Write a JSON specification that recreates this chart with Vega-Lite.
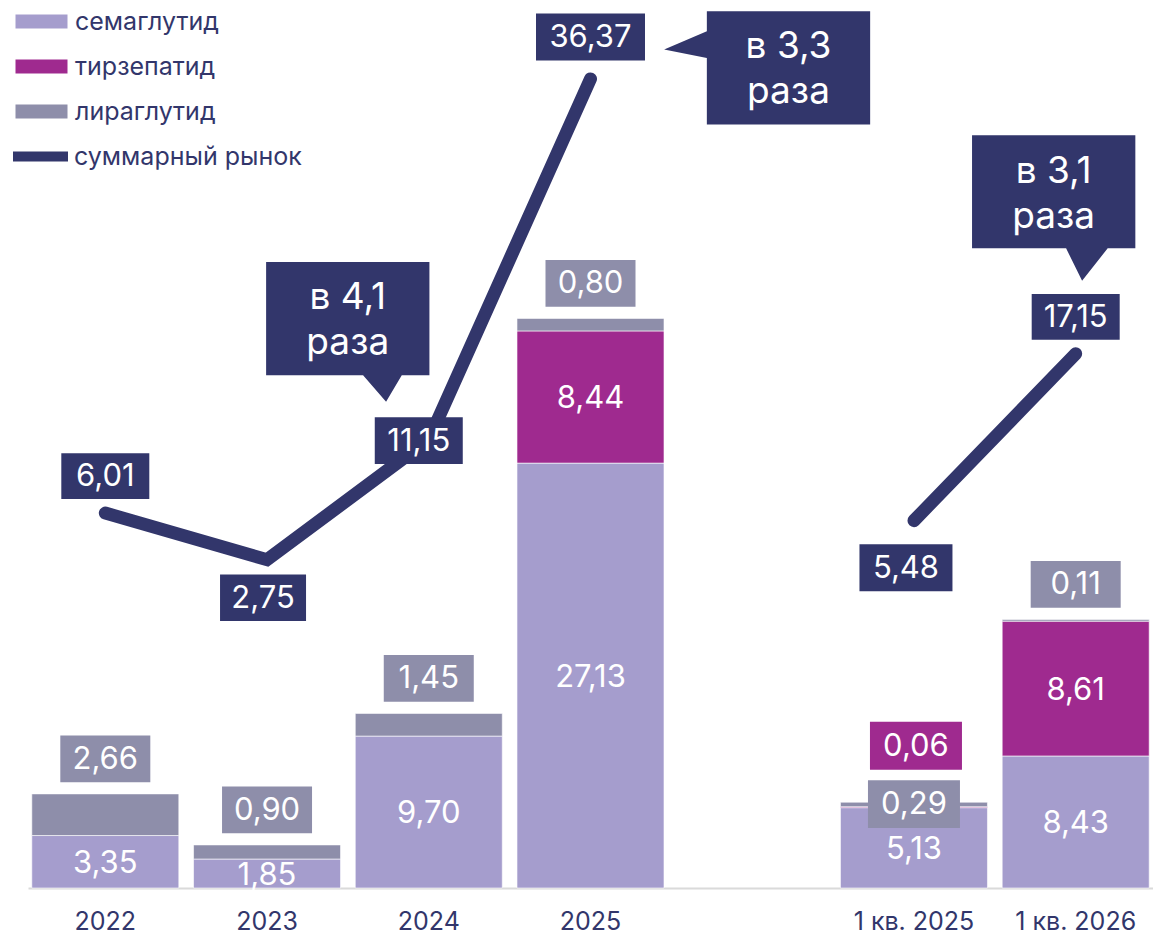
{
  "$schema": "https://vega.github.io/schema/vega-lite/v6.json",
  "autosize": {"type": "none"},
  "width": 1125,
  "height": 888,
  "padding": {"left": 28, "top": 0, "right": 0, "bottom": 48},
  "background": "white",
  "config": {
    "view": {"stroke": null},
    "font": "Inter",
    "locale": {"number": {"decimal": ",", "thousands": " ", "grouping": [3], "currency": ["", ""]}}
  },
  "datasets": {
    "bars": [
      {"cat": "2022", "series": "семаглутид", "ord": 1, "v": 3.35},
      {"cat": "2022", "series": "лираглутид", "ord": 3, "v": 2.66},
      {"cat": "2023", "series": "семаглутид", "ord": 1, "v": 1.85},
      {"cat": "2023", "series": "лираглутид", "ord": 3, "v": 0.90},
      {"cat": "2024", "series": "семаглутид", "ord": 1, "v": 9.70},
      {"cat": "2024", "series": "лираглутид", "ord": 3, "v": 1.45},
      {"cat": "2025", "series": "семаглутид", "ord": 1, "v": 27.13},
      {"cat": "2025", "series": "тирзепатид", "ord": 2, "v": 8.44},
      {"cat": "2025", "series": "лираглутид", "ord": 3, "v": 0.80},
      {"cat": "1 кв. 2025", "series": "семаглутид", "ord": 1, "v": 5.13},
      {"cat": "1 кв. 2025", "series": "тирзепатид", "ord": 2, "v": 0.06},
      {"cat": "1 кв. 2025", "series": "лираглутид", "ord": 3, "v": 0.29},
      {"cat": "1 кв. 2026", "series": "семаглутид", "ord": 1, "v": 8.43},
      {"cat": "1 кв. 2026", "series": "тирзепатид", "ord": 2, "v": 8.61},
      {"cat": "1 кв. 2026", "series": "лираглутид", "ord": 3, "v": 0.11}
    ],
    "totals": [
      {"cat": "2022", "period": "годы", "total": 6.01},
      {"cat": "2023", "period": "годы", "total": 2.75},
      {"cat": "2024", "period": "годы", "total": 11.15},
      {"cat": "2025", "period": "годы", "total": 36.37},
      {"cat": "1 кв. 2025", "period": "кварталы", "total": 5.48},
      {"cat": "1 кв. 2026", "period": "кварталы", "total": 17.15}
    ],
    "callouts": [
      {"cat": "2024", "total": 11.15, "text": "в 4,1\nраза"},
      {"cat": "2025", "total": 36.37, "text": "в 3,3\nраза"},
      {"cat": "1 кв. 2026", "total": 17.15, "text": "в 3,1\nраза"}
    ]
  },
  "encoding": {
    "x": {
      "field": "cat",
      "type": "nominal",
      "scale": {"domain": ["2022", "2023", "2024", "2025", " ", "1 кв. 2025", "1 кв. 2026"], "paddingInner": 0.091, "paddingOuter": 0.0235},
      "axis": {"title": null, "ticks": false, "labelAngle": 0, "labelFont": "Inter", "labelFontSize": 25, "labelColor": "#32366b", "labelPadding": 21, "domainColor": "#dadada", "domainWidth": 2, "grid": false}
    }
  },
  "layer": [
    {
      "data": {"name": "bars"},
      "transform": [{"stack": "v", "groupby": ["cat"], "sort": [{"field": "ord", "order": "ascending"}], "as": ["v0", "v1"]}],
      "layer": [
        {
          "mark": {"type": "bar", "stroke": "#ffffff", "strokeWidth": 1, "strokeOpacity": 0.6},
          "encoding": {
            "y": {"field": "v1", "type": "quantitative", "scale": {"domain": [0, 56.7], "nice": false, "zero": false}, "axis": null},
            "y2": {"field": "v0"},
            "fill": {
              "field": "series",
              "type": "nominal",
              "scale": {"domain": ["семаглутид", "тирзепатид", "лираглутид"], "range": ["#a59dcd", "#9f2a8f", "#8e8eaa"]},
              "legend": {
                "orient": "none", "legendX": 1, "legendY": 9, "direction": "vertical", "title": null,
                "symbolType": "M-2.6,-0.7H2.6V0.7H-2.6Z", "symbolSize": 400, "symbolStrokeWidth": 0,
                "labelFont": "Inter", "labelFontSize": 25, "labelColor": "#32366b",
                "labelOffset": 21, "rowPadding": 19, "labelLimit": 500
              }
            }
          }
        },
        {
          "transform": [
            {"filter": "datum.series === 'семаглутид' || (datum.series === 'тирзепатид' && datum.v > 1)"},
            {"fold": ["v0", "v1"], "as": ["k", "p"]},
            {"aggregate": [{"op": "mean", "field": "p", "as": "mid"}], "groupby": ["cat", "series", "v"]}
          ],
          "mark": {"type": "text", "color": "#ffffff", "font": "Inter", "fontSize": 31, "baseline": "middle", "align": "center", "yOffset": 2},
          "encoding": {
            "y": {"field": "mid", "type": "quantitative", "scale": {"domain": [0, 56.7], "nice": false, "zero": false}, "axis": null},
            "text": {"field": "v", "type": "quantitative", "format": ".2f"}
          }
        },
        {
          "transform": [{"filter": "datum.series === 'лираглутид' && datum.cat !== '1 кв. 2025'"}],
          "mark": {"type": "point", "shape": "M-1,-0.52H1V0.52H-1Z", "size": 8100, "filled": true, "color": "#8e8eaa", "opacity": 1, "strokeWidth": 0, "yOffset": -35},
          "encoding": {"y": {"field": "v1", "type": "quantitative", "scale": {"domain": [0, 56.7], "nice": false, "zero": false}, "axis": null}}
        },
        {
          "transform": [{"filter": "datum.series === 'лираглутид' && datum.cat !== '1 кв. 2025'"}],
          "mark": {"type": "text", "color": "#ffffff", "font": "Inter", "fontSize": 31, "baseline": "middle", "align": "center", "yOffset": -34},
          "encoding": {
            "y": {"field": "v1", "type": "quantitative", "scale": {"domain": [0, 56.7], "nice": false, "zero": false}, "axis": null},
            "text": {"field": "v", "type": "quantitative", "format": ".2f"}
          }
        },
        {
          "transform": [{"filter": "datum.series === 'тирзепатид' && datum.cat === '1 кв. 2025'"}],
          "mark": {"type": "point", "shape": "M-1,-0.52H1V0.52H-1Z", "size": 8464, "filled": true, "color": "#9f2a8f", "opacity": 1, "strokeWidth": 0, "yOffset": -61, "xOffset": 2},
          "encoding": {"y": {"field": "v1", "type": "quantitative", "scale": {"domain": [0, 56.7], "nice": false, "zero": false}, "axis": null}}
        },
        {
          "transform": [{"filter": "datum.series === 'тирзепатид' && datum.cat === '1 кв. 2025'"}],
          "mark": {"type": "text", "color": "#ffffff", "font": "Inter", "fontSize": 31, "baseline": "middle", "align": "center", "yOffset": -60, "xOffset": 2},
          "encoding": {
            "y": {"field": "v1", "type": "quantitative", "scale": {"domain": [0, 56.7], "nice": false, "zero": false}, "axis": null},
            "text": {"field": "v", "type": "quantitative", "format": ".2f"}
          }
        },
        {
          "transform": [{"filter": "datum.series === 'лираглутид' && datum.cat === '1 кв. 2025'"}],
          "mark": {"type": "point", "shape": "M-1,-0.52H1V0.52H-1Z", "size": 8464, "filled": true, "color": "#8e8eaa", "opacity": 1, "strokeWidth": 0, "yOffset": 2},
          "encoding": {"y": {"field": "v1", "type": "quantitative", "scale": {"domain": [0, 56.7], "nice": false, "zero": false}, "axis": null}}
        },
        {
          "transform": [{"filter": "datum.series === 'лираглутид' && datum.cat === '1 кв. 2025'"}],
          "mark": {"type": "text", "color": "#ffffff", "font": "Inter", "fontSize": 31, "baseline": "middle", "align": "center", "yOffset": 3},
          "encoding": {
            "y": {"field": "v1", "type": "quantitative", "scale": {"domain": [0, 56.7], "nice": false, "zero": false}, "axis": null},
            "text": {"field": "v", "type": "quantitative", "format": ".2f"}
          }
        }
      ]
    },
    {
      "data": {"name": "totals"},
      "layer": [
        {
          "mark": {"type": "line", "strokeWidth": 13, "strokeCap": "round", "strokeJoin": "miter"},
          "encoding": {
            "y": {"field": "total", "type": "quantitative", "scale": {"domain": [-20.21, 41.89], "nice": false, "zero": false}, "axis": null},
            "detail": {"field": "period"},
            "stroke": {
              "datum": "суммарный рынок",
              "type": "nominal",
              "scale": {"domain": ["суммарный рынок"], "range": ["#32366b"]},
              "legend": {
                "orient": "none", "legendX": -20, "legendY": 124, "direction": "vertical", "title": null,
                "symbolType": "stroke", "symbolSize": 3025, "symbolStrokeWidth": 10,
                "labelFont": "Inter", "labelFontSize": 25, "labelColor": "#32366b",
                "labelOffset": 1, "labelLimit": 500
              }
            }
          }
        },
        {
          "transform": [{"filter": "datum.cat === '2022' || datum.cat === '1 кв. 2026'"}],
          "mark": {"type": "point", "shape": "M-1,-0.52H1V0.52H-1Z", "size": 7744, "filled": true, "color": "#32366b", "opacity": 1, "strokeWidth": 0, "yOffset": -37},
          "encoding": {"y": {"field": "total", "type": "quantitative", "scale": {"domain": [-20.21, 41.89], "nice": false, "zero": false}, "axis": null}}
        },
        {
          "transform": [{"filter": "datum.cat === '2022' || datum.cat === '1 кв. 2026'"}],
          "mark": {"type": "text", "color": "#ffffff", "font": "Inter", "fontSize": 31, "baseline": "middle", "align": "center", "yOffset": -36},
          "encoding": {
            "y": {"field": "total", "type": "quantitative", "scale": {"domain": [-20.21, 41.89], "nice": false, "zero": false}, "axis": null},
            "text": {"field": "total", "type": "quantitative", "format": ".2f"}
          }
        },
        {
          "transform": [{"filter": "datum.cat === '2025'"}],
          "mark": {"type": "point", "shape": "M-1,-0.431H1V0.431H-1Z", "size": 11881, "filled": true, "color": "#32366b", "opacity": 1, "strokeWidth": 0, "yOffset": -42},
          "encoding": {"y": {"field": "total", "type": "quantitative", "scale": {"domain": [-20.21, 41.89], "nice": false, "zero": false}, "axis": null}}
        },
        {
          "transform": [{"filter": "datum.cat === '2025'"}],
          "mark": {"type": "text", "color": "#ffffff", "font": "Inter", "fontSize": 31, "baseline": "middle", "align": "center", "yOffset": -41},
          "encoding": {
            "y": {"field": "total", "type": "quantitative", "scale": {"domain": [-20.21, 41.89], "nice": false, "zero": false}, "axis": null},
            "text": {"field": "total", "type": "quantitative", "format": ".2f"}
          }
        },
        {
          "transform": [{"filter": "datum.cat === '2023'"}],
          "mark": {"type": "point", "shape": "M-1,-0.54H1V0.54H-1Z", "size": 7396, "filled": true, "color": "#32366b", "opacity": 1, "strokeWidth": 0, "yOffset": 38, "xOffset": -4},
          "encoding": {"y": {"field": "total", "type": "quantitative", "scale": {"domain": [-20.21, 41.89], "nice": false, "zero": false}, "axis": null}}
        },
        {
          "transform": [{"filter": "datum.cat === '2023'"}],
          "mark": {"type": "text", "color": "#ffffff", "font": "Inter", "fontSize": 31, "baseline": "middle", "align": "center", "yOffset": 39, "xOffset": -4},
          "encoding": {
            "y": {"field": "total", "type": "quantitative", "scale": {"domain": [-20.21, 41.89], "nice": false, "zero": false}, "axis": null},
            "text": {"field": "total", "type": "quantitative", "format": ".2f"}
          }
        },
        {
          "transform": [{"filter": "datum.cat === '1 кв. 2025'"}],
          "mark": {"type": "point", "shape": "M-1,-0.505H1V0.505H-1Z", "size": 8649, "filled": true, "color": "#32366b", "opacity": 1, "strokeWidth": 0, "yOffset": 47, "xOffset": -8},
          "encoding": {"y": {"field": "total", "type": "quantitative", "scale": {"domain": [-20.21, 41.89], "nice": false, "zero": false}, "axis": null}}
        },
        {
          "transform": [{"filter": "datum.cat === '1 кв. 2025'"}],
          "mark": {"type": "text", "color": "#ffffff", "font": "Inter", "fontSize": 31, "baseline": "middle", "align": "center", "yOffset": 48, "xOffset": -8},
          "encoding": {
            "y": {"field": "total", "type": "quantitative", "scale": {"domain": [-20.21, 41.89], "nice": false, "zero": false}, "axis": null},
            "text": {"field": "total", "type": "quantitative", "format": ".2f"}
          }
        },
        {
          "transform": [{"filter": "datum.cat === '2024'"}],
          "mark": {"type": "point", "shape": "M-1,-0.53H1V0.53H-1Z", "size": 7744, "filled": true, "color": "#32366b", "opacity": 1, "strokeWidth": 0, "yOffset": 1, "xOffset": -10},
          "encoding": {"y": {"field": "total", "type": "quantitative", "scale": {"domain": [-20.21, 41.89], "nice": false, "zero": false}, "axis": null}}
        },
        {
          "transform": [{"filter": "datum.cat === '2024'"}],
          "mark": {"type": "text", "color": "#ffffff", "font": "Inter", "fontSize": 31, "baseline": "middle", "align": "center", "yOffset": 2, "xOffset": -10},
          "encoding": {
            "y": {"field": "total", "type": "quantitative", "scale": {"domain": [-20.21, 41.89], "nice": false, "zero": false}, "axis": null},
            "text": {"field": "total", "type": "quantitative", "format": ".2f"}
          }
        },
        {
          "data": {"name": "callouts"},
          "transform": [{"filter": "datum.cat === '2024'"}],
          "layer": [
            {
              "mark": {"type": "point", "shape": "M-1.633,-1.133H1.633V1.133H1.08L0.766,1.666L0.306,1.133H-1.633Z", "size": 10000, "filled": true, "color": "#32366b", "opacity": 1, "strokeWidth": 0, "xOffset": -81, "yOffset": -121}
            },
            {
              "mark": {"type": "text", "color": "#ffffff", "font": "Inter", "fontSize": 37, "lineHeight": 45, "lineBreak": "\n", "baseline": "middle", "align": "center", "xOffset": -81, "yOffset": -142},
              "encoding": {"text": {"field": "text", "type": "nominal"}}
            }
          ],
          "encoding": {"y": {"field": "total", "type": "quantitative", "scale": {"domain": [-20.21, 41.89], "nice": false, "zero": false}, "axis": null}}
        },
        {
          "data": {"name": "callouts"},
          "transform": [{"filter": "datum.cat === '2025'"}],
          "layer": [
            {
              "mark": {"type": "point", "shape": "M-1.633,-1.133H1.633V1.133H-1.633V-0.2L-2.487,-0.367L-1.633,-0.733Z", "size": 10000, "filled": true, "color": "#32366b", "opacity": 1, "strokeWidth": 0, "xOffset": 198, "yOffset": -11}
            },
            {
              "mark": {"type": "text", "color": "#ffffff", "font": "Inter", "fontSize": 37, "lineHeight": 45, "lineBreak": "\n", "baseline": "middle", "align": "center", "xOffset": 198, "yOffset": -32},
              "encoding": {"text": {"field": "text", "type": "nominal"}}
            }
          ],
          "encoding": {"y": {"field": "total", "type": "quantitative", "scale": {"domain": [-20.21, 41.89], "nice": false, "zero": false}, "axis": null}}
        },
        {
          "data": {"name": "callouts"},
          "transform": [{"filter": "datum.cat === '1 кв. 2026'"}],
          "layer": [
            {
              "mark": {"type": "point", "shape": "M-1.633,-1.13H1.633V1.13H1.08L0.568,1.782L0.248,1.13H-1.633Z", "size": 10000, "filled": true, "color": "#32366b", "opacity": 1, "strokeWidth": 0, "xOffset": -22, "yOffset": -162}
            },
            {
              "mark": {"type": "text", "color": "#ffffff", "font": "Inter", "fontSize": 37, "lineHeight": 45, "lineBreak": "\n", "baseline": "middle", "align": "center", "xOffset": -22, "yOffset": -182},
              "encoding": {"text": {"field": "text", "type": "nominal"}}
            }
          ],
          "encoding": {"y": {"field": "total", "type": "quantitative", "scale": {"domain": [-20.21, 41.89], "nice": false, "zero": false}, "axis": null}}
        }
      ]
    }
  ],
  "resolve": {"scale": {"y": "independent"}}
}
